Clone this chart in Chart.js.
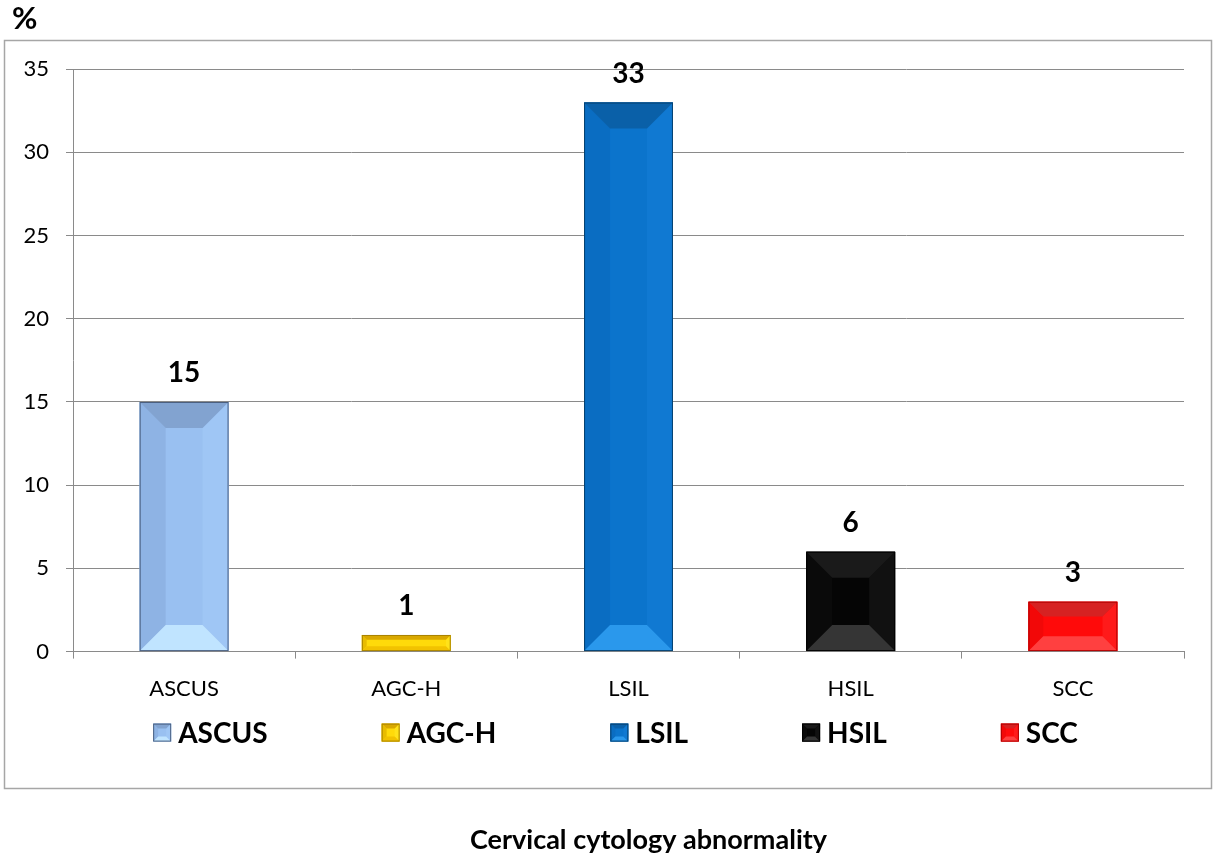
<!DOCTYPE html>
<html>
<head>
<meta charset="utf-8">
<title>Cervical cytology abnormality</title>
<script src="https://cdn.jsdelivr.net/npm/chart.js@4.4.1/dist/chart.umd.min.js"></script>
<style>
  html, body { margin: 0; padding: 0; background: #fff; }
  #wrap { width: 1213px; height: 855px; position: relative; }
</style>
</head>
<body>
<div id="wrap"><canvas id="cytoChart"></canvas></div>
<script>
// data
const categories = ['ASCUS', 'AGC-H', 'LSIL', 'HSIL', 'SCC'];
const percentages = [15, 1, 33, 6, 3];
const yMin = 0;
const yMax = 35;
const yStep = 5;
const xTitle = 'Cervical cytology abnormality';

// bar look: main face, top bevel, bottom bevel, left side, right side, outline
const faceColors   = ['#99C0F1', '#FFDA0A', '#0B74CC', '#050505', '#FF0A0A'];
const topColors    = ['#82A3D0', '#D9A800', '#0A60A8', '#1A1A1A', '#D62222'];
const bottomColors = ['#C0E4FF', '#F2C200', '#2A98EC', '#353535', '#FF4040'];
const leftColors   = ['#8EB3E4', '#E8BC00', '#0A6DC2', '#0A0A0A', '#F20808'];
const rightColors  = ['#9FC6F5', '#FFE21A', '#1079D2', '#111111', '#FF1A1A'];
const edgeColors   = ['#4A5F80', '#A88200', '#06406E', '#000000', '#B00000'];

const fontName = 'Lato, "Open Sans", sans-serif';

function poly(ctx, pts, color) {
  ctx.beginPath();
  ctx.moveTo(pts[0][0], pts[0][1]);
  for (let k = 1; k < pts.length; k++) ctx.lineTo(pts[k][0], pts[k][1]);
  ctx.closePath();
  ctx.fillStyle = color;
  ctx.fill();
}

// draws the bevelled box look over a rectangle
function bevelBox(ctx, l, t, r, b, d, i) {
  poly(ctx, [[l, t], [r, t], [r, b], [l, b]], faceColors[i]);
  poly(ctx, [[l, t], [l + d, t + d], [l + d, b - d], [l, b]], leftColors[i]);
  poly(ctx, [[r, t], [r - d, t + d], [r - d, b - d], [r, b]], rightColors[i]);
  poly(ctx, [[l, t], [r, t], [r - d, t + d], [l + d, t + d]], topColors[i]);
  poly(ctx, [[l, b], [r, b], [r - d, b - d], [l + d, b - d]], bottomColors[i]);
  ctx.strokeStyle = edgeColors[i];
  ctx.lineWidth = 1;
  ctx.strokeRect(l + 0.5, t + 0.5, r - l - 1, b - t - 1);
}

const bevelPlugin = {
  id: 'bevel',
  afterDatasetsDraw(chart) {
    const ctx = chart.ctx;
    ctx.save();
    chart.getDatasetMeta(0).data.forEach((bar, i) => {
      const p = bar.getProps(['x', 'y', 'base', 'width'], true);
      const l = p.x - p.width / 2, r = p.x + p.width / 2;
      const t = Math.min(p.y, p.base), b = Math.max(p.y, p.base);
      const d = Math.min(26, (b - t) * 0.3, p.width * 0.3);
      bevelBox(ctx, l, t, r, b, d, i);
    });
    ctx.restore();
  }
};

// value labels above the bars
const valueLabels = {
  id: 'valueLabels',
  afterDatasetsDraw(chart) {
    const ctx = chart.ctx;
    ctx.save();
    ctx.font = 'bold 28px ' + fontName;
    ctx.fillStyle = '#000';
    ctx.textAlign = 'center';
    ctx.textBaseline = 'middle';
    chart.getDatasetMeta(0).data.forEach((bar, i) => {
      ctx.fillText(String(percentages[i]), bar.x, bar.y - 29);
    });
    ctx.restore();
  }
};

// legend row under the category labels, the frame, and the axis title below the frame
const legendAndFrame = {
  id: 'legendAndFrame',
  afterDraw(chart) {
    const ctx = chart.ctx;
    const area = chart.chartArea;
    ctx.save();

    ctx.strokeStyle = '#A6A6A6';
    ctx.lineWidth = 1.5;
    ctx.strokeRect(4.5, 40.5, 1207, 748);

    ctx.font = 'bold 28px ' + fontName;
    ctx.textBaseline = 'middle';
    ctx.textAlign = 'left';
    const box = 18, gapText = 7, gapItem = 114;
    const widths = categories.map(c => box + gapText + ctx.measureText(c).width);
    const total = widths.reduce((a, w) => a + w, 0) + gapItem * (categories.length - 1);
    let x = (area.left + area.right) / 2 - 13 - total / 2;
    const y = area.bottom + 81;
    categories.forEach((c, i) => {
      bevelBox(ctx, x, y - box / 2, x + box, y + box / 2, 5, i);
      ctx.fillStyle = '#000';
      ctx.fillText(c, x + box + gapText, y + 1);
      x += widths[i] + gapItem;
    });

    // axis title sits outside the frame, a little right of centre
    ctx.font = 'bold 27px ' + fontName;
    ctx.textAlign = 'center';
    ctx.fillStyle = '#000';
    ctx.fillText(xTitle, (area.left + area.right) / 2 + 20, area.bottom + 189);
    ctx.restore();
  }
};

const gridGray = '#8A8A8A';

new Chart(document.getElementById('cytoChart'), {
  type: 'bar',
  data: {
    labels: categories,
    datasets: [{
      data: percentages,
      backgroundColor: faceColors,
      borderWidth: 0,
      barPercentage: 0.4,
      categoryPercentage: 1.0
    }]
  },
  options: {
    responsive: true,
    maintainAspectRatio: false,
    animation: false,
    layout: { padding: { left: 12, right: 29, top: 0, bottom: 136 } },
    plugins: {
      legend: { display: false },
      tooltip: { enabled: false },
      title: {
        display: true,
        text: '%',
        align: 'start',
        color: '#000',
        font: { family: fontName, size: 31, weight: 'bold' },
        padding: { top: 0, bottom: 32 }
      }
    },
    scales: {
      x: {
        grid: { drawOnChartArea: false, tickLength: 7, color: gridGray },
        border: { color: gridGray },
        ticks: { color: '#000', font: { family: fontName, size: 22 }, padding: 17 }
      },
      y: {
        min: yMin,
        max: yMax,
        afterFit(scale) { scale.width = 61; },
        grid: { color: gridGray, tickLength: 7 },
        border: { color: gridGray },
        ticks: {
          stepSize: yStep,
          color: '#000',
          font: { family: fontName, size: 22 },
          padding: 17
        }
      }
    }
  },
  plugins: [bevelPlugin, valueLabels, legendAndFrame]
});
</script>
</body>
</html>
